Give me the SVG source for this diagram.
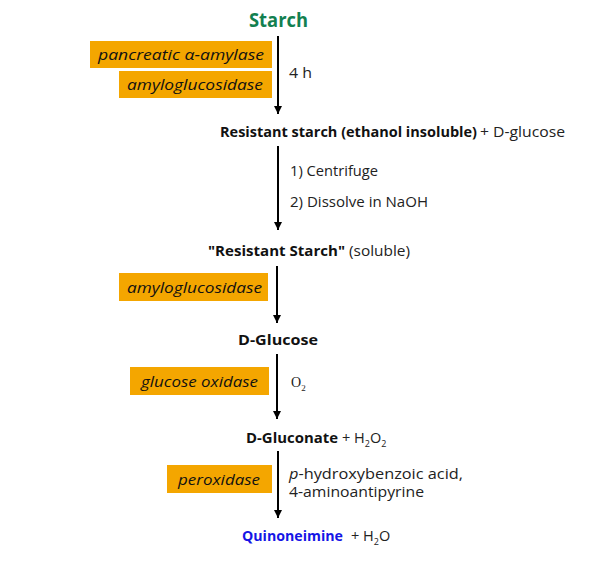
<svg xmlns="http://www.w3.org/2000/svg" width="610" height="570" viewBox="0 0 610 570">
<defs>
<marker id="ah" viewBox="0 0 8 10" refX="8" refY="5" markerWidth="8" markerHeight="10" markerUnits="userSpaceOnUse" orient="auto">
<path d="M0,1 L8,5 L0,9 Z" fill="#000"/>
</marker>
<style>
text{font-family:"Open Sans",Lato,"Liberation Sans",sans-serif;font-size:14.5px;fill:#222}
.b{font-weight:bold;fill:#111}
.enz{fill:#f4a600}
.it{font-style:italic;fill:#111;font-size:15px}
.ar{stroke:#000;stroke-width:2;fill:none;marker-end:url(#ah)}
.sub{font-size:9px}
</style>
</defs>
<rect width="610" height="570" fill="#fff"/>
<g id="connectors">
<line class="ar" x1="278" y1="36" x2="278" y2="114"/>
<line class="ar" x1="278" y1="146" x2="278" y2="230"/>
<line class="ar" x1="277" y1="266" x2="277" y2="323"/>
<line class="ar" x1="277" y1="354" x2="277" y2="419"/>
<line class="ar" x1="278" y1="451" x2="278" y2="518"/>
</g>
<g id="starch"><text x="249" y="27" class="b" style="font-size:19.5px;fill:#128050" textLength="59" lengthAdjust="spacingAndGlyphs">Starch</text></g>
<g id="enz-amylase"><rect class="enz" x="90" y="41" width="182" height="27"/><text class="it" x="98" y="60" textLength="166" lengthAdjust="spacingAndGlyphs">pancreatic α-amylase</text></g>
<g id="enz-amg1"><rect class="enz" x="119" y="71" width="153" height="27"/><text class="it" x="127" y="90" textLength="136" lengthAdjust="spacingAndGlyphs">amyloglucosidase</text></g>
<g id="cond1"><text x="289" y="78" textLength="23" lengthAdjust="spacingAndGlyphs">4 h</text></g>
<g id="rs-insoluble"><text x="220" y="137" class="b" textLength="257" lengthAdjust="spacingAndGlyphs">Resistant starch (ethanol insoluble)</text><text x="480" y="137" textLength="85" lengthAdjust="spacingAndGlyphs">+ D-glucose</text></g>
<g id="cond2"><text x="290" y="176" textLength="88" lengthAdjust="spacingAndGlyphs">1) Centrifuge</text><text x="290" y="207" textLength="138" lengthAdjust="spacingAndGlyphs">2) Dissolve in NaOH</text></g>
<g id="rs-soluble"><text x="208" y="256" class="b" textLength="137" lengthAdjust="spacingAndGlyphs">"Resistant Starch"</text><text x="349" y="256" textLength="61" lengthAdjust="spacingAndGlyphs">(soluble)</text></g>
<g id="enz-amg2"><rect class="enz" x="119" y="273" width="149" height="28"/><text class="it" x="127" y="293" textLength="135" lengthAdjust="spacingAndGlyphs">amyloglucosidase</text></g>
<g id="dglucose"><text x="238" y="345" class="b" textLength="80" lengthAdjust="spacingAndGlyphs">D-Glucose</text></g>
<g id="enz-gox"><rect class="enz" x="130" y="367" width="139" height="28"/><text class="it" x="141" y="387" textLength="117" lengthAdjust="spacingAndGlyphs">glucose oxidase</text></g>
<g id="cond-o2"><text x="291" y="387" style="font-family:'Liberation Serif',serif;font-size:14px">O<tspan class="sub" dy="4">2</tspan></text></g>
<g id="dgluconate"><text x="246" y="443" class="b" textLength="92" lengthAdjust="spacingAndGlyphs">D-Gluconate</text><text x="342" y="443">+ H<tspan class="sub" dy="4">2</tspan><tspan dy="-4">O</tspan><tspan class="sub" dy="4">2</tspan></text></g>
<g id="enz-pox"><rect class="enz" x="167" y="465" width="105" height="28"/><text class="it" x="178" y="485" textLength="82" lengthAdjust="spacingAndGlyphs">peroxidase</text></g>
<g id="cond-pha"><text x="289" y="479" textLength="174" lengthAdjust="spacingAndGlyphs"><tspan font-style="italic">p</tspan>-hydroxybenzoic acid,</text><text x="289" y="497" textLength="135" lengthAdjust="spacingAndGlyphs">4-aminoantipyrine</text></g>
<g id="quinoneimine"><text x="242" y="541" class="b" style="fill:#1515e6" textLength="101" lengthAdjust="spacingAndGlyphs">Quinoneimine</text><text x="351" y="541">+ H<tspan class="sub" dy="4">2</tspan><tspan dy="-4">O</tspan></text></g>
</svg>
